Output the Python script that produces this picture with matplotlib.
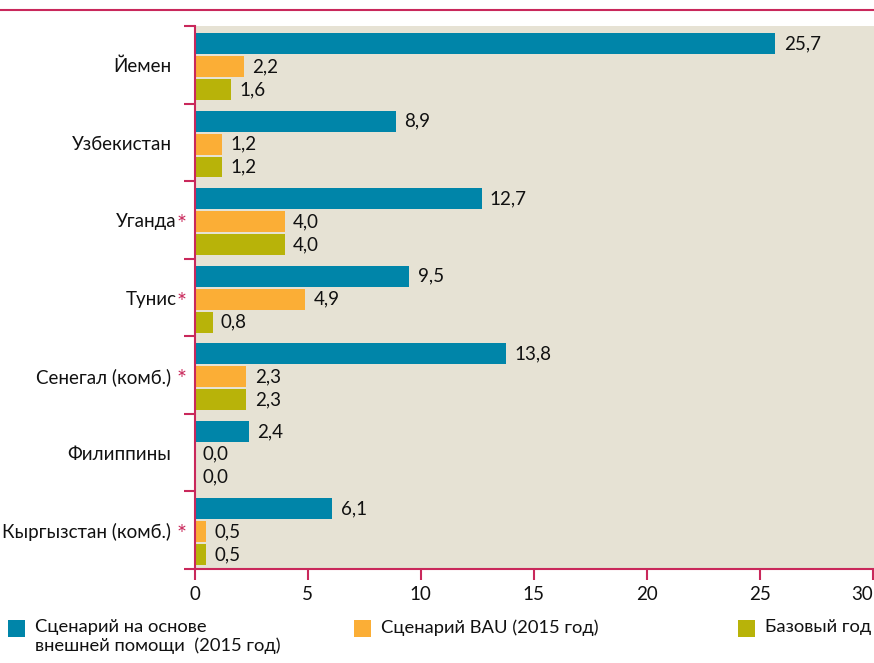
import matplotlib.pyplot as plt
from matplotlib.patches import Rectangle
from matplotlib.lines import Line2D

# данные
countries = ['Йемен', 'Узбекистан', 'Уганда', 'Тунис', 'Сенегал (комб.)',
             'Филиппины', 'Кыргызстан (комб.)']
stars = ['', '', 'tight', 'tight', 'space', '', 'space']
external_aid = [25.7, 8.9, 12.7, 9.5, 13.8, 2.4, 6.1]
bau_2015 = [2.2, 1.2, 4.0, 4.9, 2.3, 0.0, 0.5]
base_year = [1.6, 1.2, 4.0, 0.8, 2.3, 0.0, 0.5]
x_ticks = [0, 5, 10, 15, 20, 25, 30]
legend_labels = ['Сценарий на основе\nвнешней помощи  (2015 год)',
                 'Сценарий BAU (2015 год)', 'Базовый год']

BLUE = '#0085a9'
ORANGE = '#fbae36'
OLIVE = '#b8b309'
BEIGE = '#e6e2d4'
CRIMSON = '#c9285b'
TXT = '#111111'

plt.rcParams['font.family'] = ['Lato', 'DejaVu Sans']
FS = 13.5

fig = plt.figure(figsize=(8.74, 6.63), dpi=100)
ax = fig.add_axes([194.5 / 874, 94 / 663, 679.5 / 874, 543 / 663])
ax.set_facecolor(BEIGE)

offsets = [-0.274, 0.022, 0.318]
h = 0.27
series = [external_aid, bau_2015, base_year]
colors = [BLUE, ORANGE, OLIVE]
for vals, off, c in zip(series, offsets, colors):
    ys = [i + off for i in range(len(countries))]
    ax.barh(ys, vals, height=h, color=c, linewidth=0)
    for y, v in zip(ys, vals):
        ax.annotate(f'{v:.1f}'.replace('.', ','), (v, y), xytext=(6, 0),
                    textcoords='offset points', va='center', ha='left',
                    fontsize=FS, color=TXT)

ax.set_xlim(0, 30.06)
ax.set_ylim(len(countries) - 0.5, -0.5)

for s in ['top', 'right']:
    ax.spines[s].set_visible(False)
for s in ['left', 'bottom']:
    ax.spines[s].set_color(CRIMSON)
    ax.spines[s].set_linewidth(1.5)

ax.set_xticks(x_ticks)
ax.set_xticklabels([str(t) for t in x_ticks], fontsize=FS)
ax.tick_params(axis='x', direction='out', length=8, width=1.5, color=CRIMSON,
               pad=4, labelcolor=TXT)
# последняя подпись "30" прижата к краю
ax.get_xticklabels()[-1].set_horizontalalignment('right')
ax.set_yticks([i - 0.5 for i in range(len(countries) + 1)])
ax.set_yticklabels([])
ax.tick_params(axis='y', direction='out', length=8, width=1.5, color=CRIMSON)

# подписи стран
for i, (name, st) in enumerate(zip(countries, stars)):
    y = i + offsets[1]
    xr = -18 if st == 'tight' else -23
    ax.annotate(name, (0, y), xytext=(xr, 0), textcoords='offset pixels',
                ha='right', va='center', fontsize=FS, color=TXT)
    if st:
        ax.annotate('*', (0, y), xytext=(-8, -3), textcoords='offset pixels',
                    ha='right', va='center', fontsize=17, color=CRIMSON)

# верхняя линия
fig.add_artist(Line2D([0, 1], [1 - 10 / 663, 1 - 10 / 663], color=CRIMSON,
                      lw=1.5, transform=fig.transFigure))

# легенда
leg_x = [8, 354, 738]
for x, c, lab in zip(leg_x, colors, legend_labels):
    fig.add_artist(Rectangle((x / 874, 1 - 637 / 663), 17 / 874, 17 / 663,
                             transform=fig.transFigure, color=c, lw=0))
    fig.text((x + 27) / 874, 1 - 619 / 663, lab, ha='left', va='top',
             fontsize=13.2, color=TXT, linespacing=1.15)

fig.savefig('out.png', dpi=100)
